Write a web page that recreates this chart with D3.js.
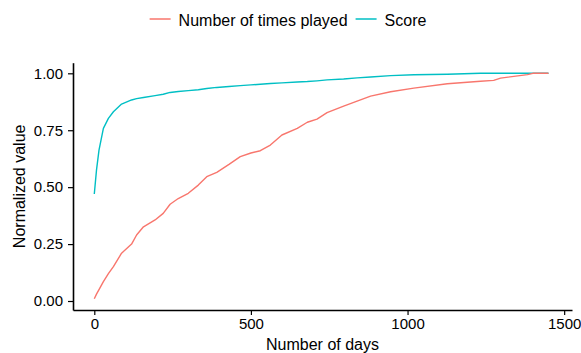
<!DOCTYPE html>
<html>
<head>
<meta charset="utf-8">
<script src="https://cdn.jsdelivr.net/npm/d3@7"></script>
<style>
  html, body { margin: 0; padding: 0; background: #fff; }
  svg { display: block; font-family: "Liberation Sans", Arial, Helvetica, sans-serif; }
</style>
</head>
<body>
<svg id="chart" width="581" height="353"></svg>
<script>
// Days since first play
const days = [0, 7, 15, 29, 45, 61, 87, 119, 135, 157, 194, 220, 242, 268, 300, 332, 359, 391, 430, 466,
              500, 530, 562, 599, 648, 680, 711, 743, 796, 839, 882, 946, 1020, 1127, 1233, 1275, 1297, 1383, 1400, 1450];

// Normalized cumulative number of times played
const timesPlayed = [0.01, 0.03, 0.05, 0.085, 0.12, 0.151, 0.21, 0.25, 0.29, 0.326, 0.356, 0.385, 0.425, 0.45, 0.473, 0.509, 0.546, 0.565, 0.60, 0.634,
                     0.65, 0.66, 0.685, 0.729, 0.758, 0.785, 0.799, 0.827, 0.856, 0.878, 0.90, 0.919, 0.935, 0.954, 0.965, 0.969, 0.979, 0.994, 1.0, 1.0];

// Normalized score
const score = [0.47, 0.575, 0.663, 0.758, 0.802, 0.831, 0.865, 0.883, 0.889, 0.894, 0.902, 0.908, 0.916, 0.92, 0.924, 0.928, 0.933, 0.938, 0.942, 0.946,
               0.949, 0.952, 0.955, 0.958, 0.962, 0.964, 0.967, 0.971, 0.975, 0.98, 0.984, 0.99, 0.994, 0.996, 1.0, 1.0, 1.0, 1.0, 1.0, 1.0];

const xTicks = [0, 500, 1000, 1500];
const yTicks = [0, 0.25, 0.5, 0.75, 1.0];

const seriesNames = ["Number of times played", "Score"];
const seriesColors = ["#F8766D", "#00BFC4"];

const svg = d3.select("#chart");

const x = d3.scaleLinear().domain([-68, 1525]).range([73, 572]);
const y = d3.scaleLinear().domain([-0.0395, 1.0466]).range([310, 62.7]);

// Axes
const xAxis = d3.axisBottom(x).tickValues(xTicks).tickFormat(d3.format("d"))
  .tickSizeInner(5).tickSizeOuter(0).tickPadding(3);
const yAxis = d3.axisLeft(y).tickValues(yTicks).tickFormat(d3.format(".2f"))
  .tickSizeInner(5).tickSizeOuter(0).tickPadding(5);

const gx = svg.append("g").attr("transform", "translate(0,310)").call(xAxis);
const gy = svg.append("g").attr("transform", "translate(73,0)").call(yAxis);

[gx, gy].forEach(g => {
  g.select(".domain").attr("stroke", "#000").attr("stroke-width", 1.6);
  g.selectAll(".tick line").attr("stroke", "#000").attr("stroke-width", 1.2);
  g.selectAll(".tick text").attr("fill", "#000").attr("font-size", 15)
    .attr("font-family", "Liberation Sans, Arial, sans-serif");
});

// Axis titles
svg.append("text")
  .attr("x", (x.range()[0] + x.range()[1]) / 2)
  .attr("y", 349.5)
  .attr("text-anchor", "middle")
  .attr("font-size", 16)
  .attr("fill", "#000")
  .text("Number of days");

svg.append("text")
  .attr("transform", `translate(25,${(y.range()[0] + y.range()[1]) / 2}) rotate(-90)`)
  .attr("text-anchor", "middle")
  .attr("font-size", 16)
  .attr("fill", "#000")
  .text("Normalized value");

// Lines
const line = vals => d3.line()
  .x((d, i) => x(days[i]))
  .y(d => y(d))(vals);

const seriesValues = [timesPlayed, score];
// draw score first so the play count sits on top where they meet
[1, 0].forEach(k => {
  svg.append("path")
    .attr("d", line(seriesValues[k]))
    .attr("fill", "none")
    .attr("stroke", seriesColors[k])
    .attr("stroke-width", 1.4)
    .attr("stroke-linejoin", "round");
});

// Legend along the top
const legend = svg.append("g");
let cursor = 0;
seriesNames.forEach((name, k) => {
  const item = legend.append("g").attr("transform", `translate(${cursor},0)`);
  item.append("line")
    .attr("x1", 0).attr("x2", 21).attr("y1", 19).attr("y2", 19)
    .attr("stroke", seriesColors[k]).attr("stroke-width", 1.5);
  const t = item.append("text")
    .attr("x", 29).attr("y", 25.7)
    .attr("font-size", 16).attr("fill", "#000")
    .text(name);
  cursor += 29 + t.node().getComputedTextLength() + 8;
});
const legendWidth = cursor - 8;
legend.attr("transform", `translate(${288 - legendWidth / 2},0)`);
</script>
</body>
</html>
